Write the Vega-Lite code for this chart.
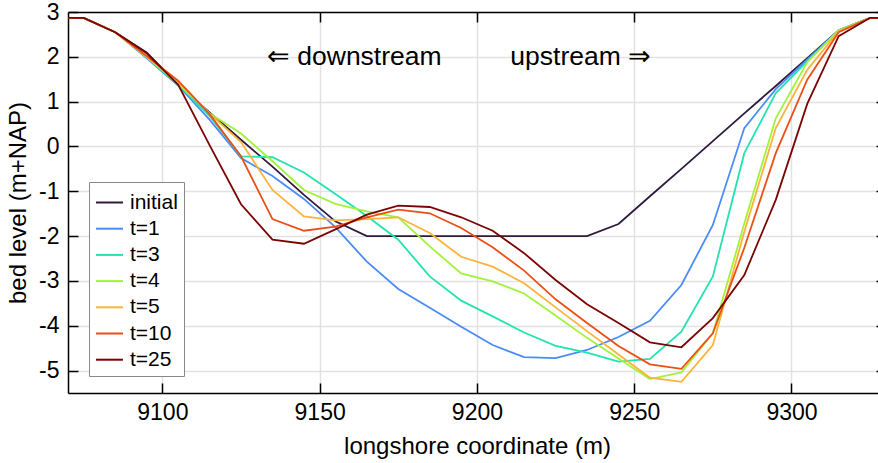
{
  "$schema": "https://vega.github.io/schema/vega-lite/v6.json",
  "width": 810,
  "height": 381,
  "autosize": {"type": "none"},
  "padding": {"left": 68, "top": 12, "right": 0, "bottom": 70},
  "background": "white",
  "config": {
    "view": {"stroke": null},
    "font": "Liberation Sans",
    "axis": {
      "labelFont": "Liberation Sans",
      "titleFont": "Liberation Sans",
      "labelColor": "black",
      "titleColor": "black",
      "titleFontWeight": "normal",
      "domainColor": "black",
      "domainWidth": 1.5,
      "tickColor": "black",
      "tickWidth": 1.5,
      "gridColor": "#e2e2e2",
      "gridWidth": 1.5
    }
  },
  "resolve": {"axis": {"x": "independent", "y": "independent"}},
  "layer": [
    {
      "data": {
        "values": [
          {"x": 9065, "initial": 2.87, "t=1": 2.87, "t=3": 2.87, "t=4": 2.87, "t=5": 2.87, "t=10": 2.87, "t=25": 2.87},
          {"x": 9075, "initial": 2.87, "t=1": 2.87, "t=3": 2.87, "t=4": 2.87, "t=5": 2.87, "t=10": 2.87, "t=25": 2.87},
          {"x": 9085, "initial": 2.55, "t=1": 2.55, "t=3": 2.55, "t=4": 2.55, "t=5": 2.55, "t=10": 2.55, "t=25": 2.55},
          {"x": 9095, "initial": 2.10, "t=1": 1.97, "t=3": 1.99, "t=4": 2.0, "t=5": 2.0, "t=10": 2.02, "t=25": 2.08},
          {"x": 9105, "initial": 1.38, "t=1": 1.36, "t=3": 1.38, "t=4": 1.40, "t=5": 1.45, "t=10": 1.47, "t=25": 1.38},
          {"x": 9115, "initial": 0.76, "t=1": 0.60, "t=3": 0.68, "t=4": 0.74, "t=5": 0.74, "t=10": 0.72, "t=25": 0.03},
          {"x": 9125, "initial": 0.15, "t=1": -0.26, "t=3": -0.22, "t=4": 0.29, "t=5": 0.10, "t=10": -0.22, "t=25": -1.29},
          {"x": 9135, "initial": -0.45, "t=1": -0.66, "t=3": -0.24, "t=4": -0.33, "t=5": -0.97, "t=10": -1.62, "t=25": -2.08},
          {"x": 9145, "initial": -1.08, "t=1": -1.17, "t=3": -0.58, "t=4": -0.97, "t=5": -1.56, "t=10": -1.88, "t=25": -2.17},
          {"x": 9155, "initial": -1.67, "t=1": -1.80, "t=3": -1.06, "t=4": -1.28, "t=5": -1.65, "t=10": -1.79, "t=25": -1.85},
          {"x": 9165, "initial": -2.0, "t=1": -2.57, "t=3": -1.55, "t=4": -1.45, "t=5": -1.62, "t=10": -1.58, "t=25": -1.52},
          {"x": 9175, "initial": -2.0, "t=1": -3.18, "t=3": -2.08, "t=4": -1.58, "t=5": -1.58, "t=10": -1.41, "t=25": -1.32},
          {"x": 9185, "initial": -2.0, "t=1": -3.60, "t=3": -2.90, "t=4": -2.23, "t=5": -1.93, "t=10": -1.49, "t=25": -1.35},
          {"x": 9195, "initial": -2.0, "t=1": -4.02, "t=3": -3.44, "t=4": -2.83, "t=5": -2.46, "t=10": -1.82, "t=25": -1.58},
          {"x": 9205, "initial": -2.0, "t=1": -4.43, "t=3": -3.79, "t=4": -3.01, "t=5": -2.68, "t=10": -2.25, "t=25": -1.88},
          {"x": 9215, "initial": -2.0, "t=1": -4.70, "t=3": -4.15, "t=4": -3.28, "t=5": -3.05, "t=10": -2.77, "t=25": -2.38},
          {"x": 9225, "initial": -2.0, "t=1": -4.72, "t=3": -4.45, "t=4": -3.77, "t=5": -3.59, "t=10": -3.41, "t=25": -2.98},
          {"x": 9235, "initial": -2.0, "t=1": -4.54, "t=3": -4.60, "t=4": -4.27, "t=5": -4.12, "t=10": -3.94, "t=25": -3.52},
          {"x": 9245, "initial": -1.73, "t=1": -4.25, "t=3": -4.80, "t=4": -4.73, "t=5": -4.64, "t=10": -4.45, "t=25": -3.94},
          {"x": 9255, "initial": -1.11, "t=1": -3.89, "t=3": -4.74, "t=4": -5.19, "t=5": -5.16, "t=10": -4.86, "t=25": -4.37},
          {"x": 9265, "initial": -0.50, "t=1": -3.09, "t=3": -4.13, "t=4": -5.04, "t=5": -5.25, "t=10": -4.96, "t=25": -4.48},
          {"x": 9275, "initial": 0.12, "t=1": -1.75, "t=3": -2.90, "t=4": -4.17, "t=5": -4.43, "t=10": -4.17, "t=25": -3.83},
          {"x": 9285, "initial": 0.74, "t=1": 0.41, "t=3": -0.15, "t=4": -1.72, "t=5": -1.90, "t=10": -2.26, "t=25": -2.87},
          {"x": 9295, "initial": 1.35, "t=1": 1.28, "t=3": 1.19, "t=4": 0.63, "t=5": 0.41, "t=10": -0.15, "t=25": -1.19},
          {"x": 9305, "initial": 1.97, "t=1": 1.94, "t=3": 1.90, "t=4": 1.88, "t=5": 1.71, "t=10": 1.49, "t=25": 0.95},
          {"x": 9315, "initial": 2.59, "t=1": 2.59, "t=3": 2.59, "t=4": 2.59, "t=5": 2.57, "t=10": 2.55, "t=25": 2.46},
          {"x": 9325, "initial": 2.87, "t=1": 2.87, "t=3": 2.87, "t=4": 2.87, "t=5": 2.87, "t=10": 2.87, "t=25": 2.87},
          {"x": 9335, "initial": 2.87, "t=1": 2.87, "t=3": 2.87, "t=4": 2.87, "t=5": 2.87, "t=10": 2.87, "t=25": 2.87}
        ]
      },
      "transform": [
        {"fold": ["initial", "t=1", "t=3", "t=4", "t=5", "t=10", "t=25"], "as": ["run", "z"]}
      ],
      "mark": {"type": "line", "clip": true, "strokeWidth": 1.8},
      "encoding": {
        "x": {
          "field": "x",
          "type": "quantitative",
          "scale": {"domain": [9070, 9327.5], "nice": false, "zero": false},
          "axis": {
            "orient": "bottom",
            "values": [9100, 9150, 9200, 9250, 9300],
            "format": "d",
            "title": "longshore coordinate (m)",
            "grid": true,
            "tickSize": -10,
            "labelFontSize": 23,
            "labelPadding": 18,
            "titleFontSize": 24,
            "titlePadding": 10,
            "titleX": 409
          }
        },
        "y": {
          "field": "z",
          "type": "quantitative",
          "scale": {"domain": [-5.5, 3], "nice": false, "zero": false},
          "axis": {
            "orient": "left",
            "values": [-5, -4, -3, -2, -1, 0, 1, 2, 3],
            "labelExpr": "'' + datum.value",
            "title": "bed level (m+NAP)",
            "grid": true,
            "tickSize": -10,
            "labelFontSize": 23,
            "labelPadding": 19,
            "titleFontSize": 24,
            "titlePadding": 8
          }
        },
        "color": {
          "field": "run",
          "type": "nominal",
          "scale": {
            "domain": ["initial", "t=1", "t=3", "t=4", "t=5", "t=10", "t=25"],
            "range": ["#2f1a3d", "#4a8cf7", "#23e2b0", "#a2f23c", "#fdb33a", "#ec4f16", "#7a0403"]
          },
          "legend": {
            "orient": "none",
            "legendX": 21,
            "legendY": 170,
            "title": null,
            "symbolType": "stroke",
            "symbolSize": 729,
            "symbolStrokeWidth": 2,
            "labelFont": "Liberation Sans",
            "labelFontSize": 21,
            "labelColor": "black",
            "labelOffset": 6,
            "rowPadding": 1.2,
            "padding": 6,
            "strokeColor": "#888888",
            "fillColor": "white",
            "cornerRadius": 0
          }
        }
      }
    },
    {
      "data": {
        "values": [
          {"x": 9161, "z": 2.0, "label": "⇐ downstream"},
          {"x": 9233, "z": 2.0, "label": "upstream ⇒"}
        ]
      },
      "mark": {"type": "text", "fontSize": 26.5, "font": "Liberation Sans", "color": "black", "align": "center", "baseline": "middle"},
      "encoding": {
        "x": {
          "field": "x",
          "type": "quantitative",
          "scale": {"domain": [9070, 9327.5], "nice": false, "zero": false},
          "axis": {
            "orient": "top",
            "values": [9100, 9150, 9200, 9250, 9300],
            "title": null,
            "grid": false,
            "labels": false,
            "tickSize": -10
          }
        },
        "y": {
          "field": "z",
          "type": "quantitative",
          "scale": {"domain": [-5.5, 3], "nice": false, "zero": false},
          "axis": {
            "orient": "right",
            "values": [-5, -4, -3, -2, -1, 0, 1, 2, 3],
            "title": null,
            "grid": false,
            "labels": false,
            "domain": false,
            "tickSize": -2
          }
        },
        "text": {"field": "label"}
      }
    }
  ]
}
